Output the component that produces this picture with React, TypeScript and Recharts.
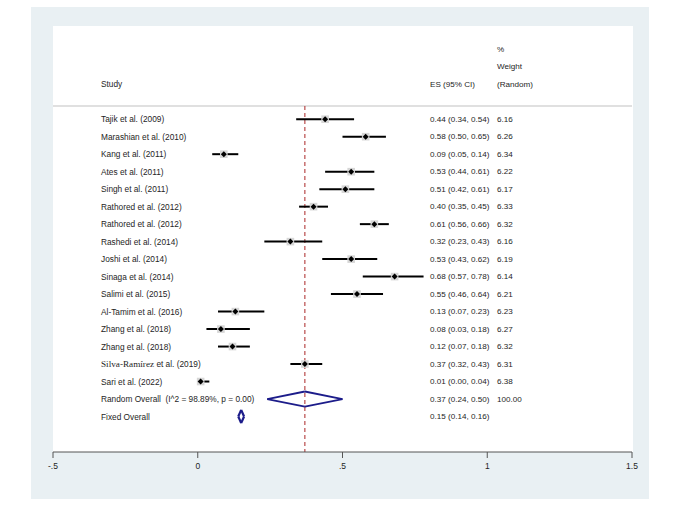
import {
  ScatterChart,
  Scatter,
  XAxis,
  YAxis,
  ReferenceLine,
} from "recharts";

const studies = [
  "Tajik et al. (2009)",
  "Marashian et al. (2010)",
  "Kang et al. (2011)",
  "Ates et al. (2011)",
  "Singh et al. (2011)",
  "Rathored et al. (2012)",
  "Rathored et al. (2012)",
  "Rashedi et al. (2014)",
  "Joshi et al. (2014)",
  "Sinaga et al. (2014)",
  "Salimi et al. (2015)",
  "Al-Tamim et al. (2016)",
  "Zhang et al. (2018)",
  "Zhang et al. (2018)",
  "Silva-Ramírez et al. (2019)",
  "Sari et al. (2022)",
];
const es = [0.44, 0.58, 0.09, 0.53, 0.51, 0.4, 0.61, 0.32, 0.53, 0.68, 0.55, 0.13, 0.08, 0.12, 0.37, 0.01];
const lo = [0.34, 0.5, 0.05, 0.44, 0.42, 0.35, 0.56, 0.23, 0.43, 0.57, 0.46, 0.07, 0.03, 0.07, 0.32, 0.0];
const hi = [0.54, 0.65, 0.14, 0.61, 0.61, 0.45, 0.66, 0.43, 0.62, 0.78, 0.64, 0.23, 0.18, 0.18, 0.43, 0.04];
const weights = ["6.16", "6.26", "6.34", "6.22", "6.17", "6.33", "6.32", "6.16", "6.19", "6.14", "6.21", "6.23", "6.27", "6.32", "6.31", "6.38"];

// pooled estimates: [es, lo, hi]
const randomOverall = [0.37, 0.24, 0.5];
const fixedOverall = [0.15, 0.14, 0.16];
const randomLabel = "Random Overall\u00a0 (I^2 = 98.89%, p = 0.00)";
const fixedLabel = "Fixed Overall";

const xTicks = [-0.5, 0, 0.5, 1, 1.5];
const xTickLabels = ["-.5", "0", ".5", "1", "1.5"];

const SANS = "'Liberation Sans', Arial, sans-serif";
const TXT = "#1e1e1e";
const NAVY = "#1c1c8a";

const fmt = (v: number) => v.toFixed(2);
const ciText = (e: number, l: number, h: number) => `${fmt(e)} (${fmt(l)}, ${fmt(h)})`;

const nRows = studies.length;
const points = es.map((v, i) => ({ x: v, y: i }));
const yTicks = [-4, -3, -2, ...Array.from({ length: nRows + 2 }, (_, i) => i)];

function StudyLabel({ name, y }: { name: string; y: number }) {
  if (name.startsWith("Silva-Ramírez")) {
    return (
      <text x={101} y={y} dominantBaseline="central" fontSize={8.3} fontFamily={SANS} fill={TXT}>
        <tspan fontFamily="'Liberation Serif', 'Times New Roman', serif" fontSize={9.2}>
          Silva-Ramírez
        </tspan>
        <tspan>{name.replace("Silva-Ramírez", "")}</tspan>
      </text>
    );
  }
  return (
    <text x={101} y={y} dominantBaseline="central" fontSize={8.3} fontFamily={SANS} fill={TXT}>
      {name}
    </text>
  );
}

function renderRow(props: any) {
  const { y, payload } = props;
  const v = payload.value;
  const t = (x: number, s: string) => (
    <text x={x} y={y} dominantBaseline="central" fontSize={8.1} fontFamily={SANS} fill={TXT}>
      {s}
    </text>
  );
  if (v === -4) return <g>{t(497, "%")}</g>;
  if (v === -3) return <g>{t(497, "Weight")}</g>;
  if (v === -2)
    return (
      <g>
        <StudyLabel name="Study" y={y} />
        {t(430, "ES (95% CI)")}
        {t(497, "(Random)")}
      </g>
    );
  if (v < nRows)
    return (
      <g>
        <StudyLabel name={studies[v]} y={y} />
        {t(430, ciText(es[v], lo[v], hi[v]))}
        {t(497, weights[v])}
      </g>
    );
  if (v === nRows)
    return (
      <g>
        <StudyLabel name={randomLabel} y={y} />
        {t(430, ciText(randomOverall[0], randomOverall[1], randomOverall[2]))}
        {t(497, "100.00")}
      </g>
    );
  return (
    <g>
      <StudyLabel name={fixedLabel} y={y} />
      {t(430, ciText(fixedOverall[0], fixedOverall[1], fixedOverall[2]))}
    </g>
  );
}

function Marker(props: any) {
  const { cx, cy } = props;
  if (cx == null || cy == null) return <g />;
  const s = 3.8;
  const d = 3;
  return (
    <g>
      <rect x={cx - s} y={cy - s} width={s * 2} height={s * 2} fill="#d6d6d6" />
      <path d={`M${cx - d},${cy} L${cx},${cy - d} L${cx + d},${cy} L${cx},${cy + d} Z`} fill="#000" />
    </g>
  );
}

function diamondSegments(row: number, vals: number[], h: number, w: number) {
  const [e, l, r] = vals;
  const pts = [
    { x: l, y: row },
    { x: e, y: row - h },
    { x: r, y: row },
    { x: e, y: row + h },
    { x: l, y: row },
  ];
  return pts.slice(0, 4).map((p, i) => (
    <ReferenceLine
      key={`d${row}-${i}`}
      segment={[p, pts[i + 1]]}
      stroke={NAVY}
      strokeWidth={w}
    />
  ));
}

export default function App() {
  return (
    <div style={{ position: "absolute", left: 0, top: 0, width: 678, height: 510, background: "#fff" }}>
      <div style={{ position: "absolute", left: 31, top: 7, width: 618, height: 492, background: "#e9f0f3" }} />
      <div style={{ position: "absolute", left: 53, top: 26, width: 580, height: 426, background: "#fff" }} />
      <div style={{ position: "absolute", left: 0, top: 0 }}>
        <ScatterChart width={678} height={510} margin={{ top: 26, right: 46, bottom: 28, left: 52 }}>
          <XAxis
            type="number"
            dataKey="x"
            domain={[-0.5, 1.5]}
            ticks={xTicks}
            tickFormatter={(v: number) => xTickLabels[xTicks.indexOf(v)]}
            height={30}
            tickSize={6}
            tickMargin={5}
            stroke="#555"
            tick={{ fontSize: 8.5, fontFamily: SANS, fill: TXT }}
            allowDataOverflow
          />
          <YAxis
            type="number"
            dataKey="y"
            domain={[-5.33, 19.03]}
            reversed
            ticks={yTicks}
            interval={0}
            width={1}
            axisLine={false}
            tickLine={false}
            tick={renderRow}
            allowDataOverflow
          />
          <ReferenceLine y={-0.76} stroke="#e0e0e0" strokeWidth={2} />
          <ReferenceLine
            segment={[
              { x: randomOverall[0], y: -0.76 },
              { x: randomOverall[0], y: 19.03 },
            ]}
            stroke="#b23a3a"
            strokeWidth={1.1}
            strokeDasharray="4 3"
          />
          {es.map((_, i) => (
            <ReferenceLine
              key={`ci${i}`}
              segment={[
                { x: lo[i], y: i },
                { x: hi[i], y: i },
              ]}
              stroke="#000"
              strokeWidth={2}
            />
          ))}
          {diamondSegments(nRows, randomOverall, 0.43, 1.8)}
          {diamondSegments(nRows + 1, fixedOverall, 0.38, 2.2)}
          <Scatter data={points} shape={<Marker />} isAnimationActive={false} />
        </ScatterChart>
      </div>
    </div>
  );
}
